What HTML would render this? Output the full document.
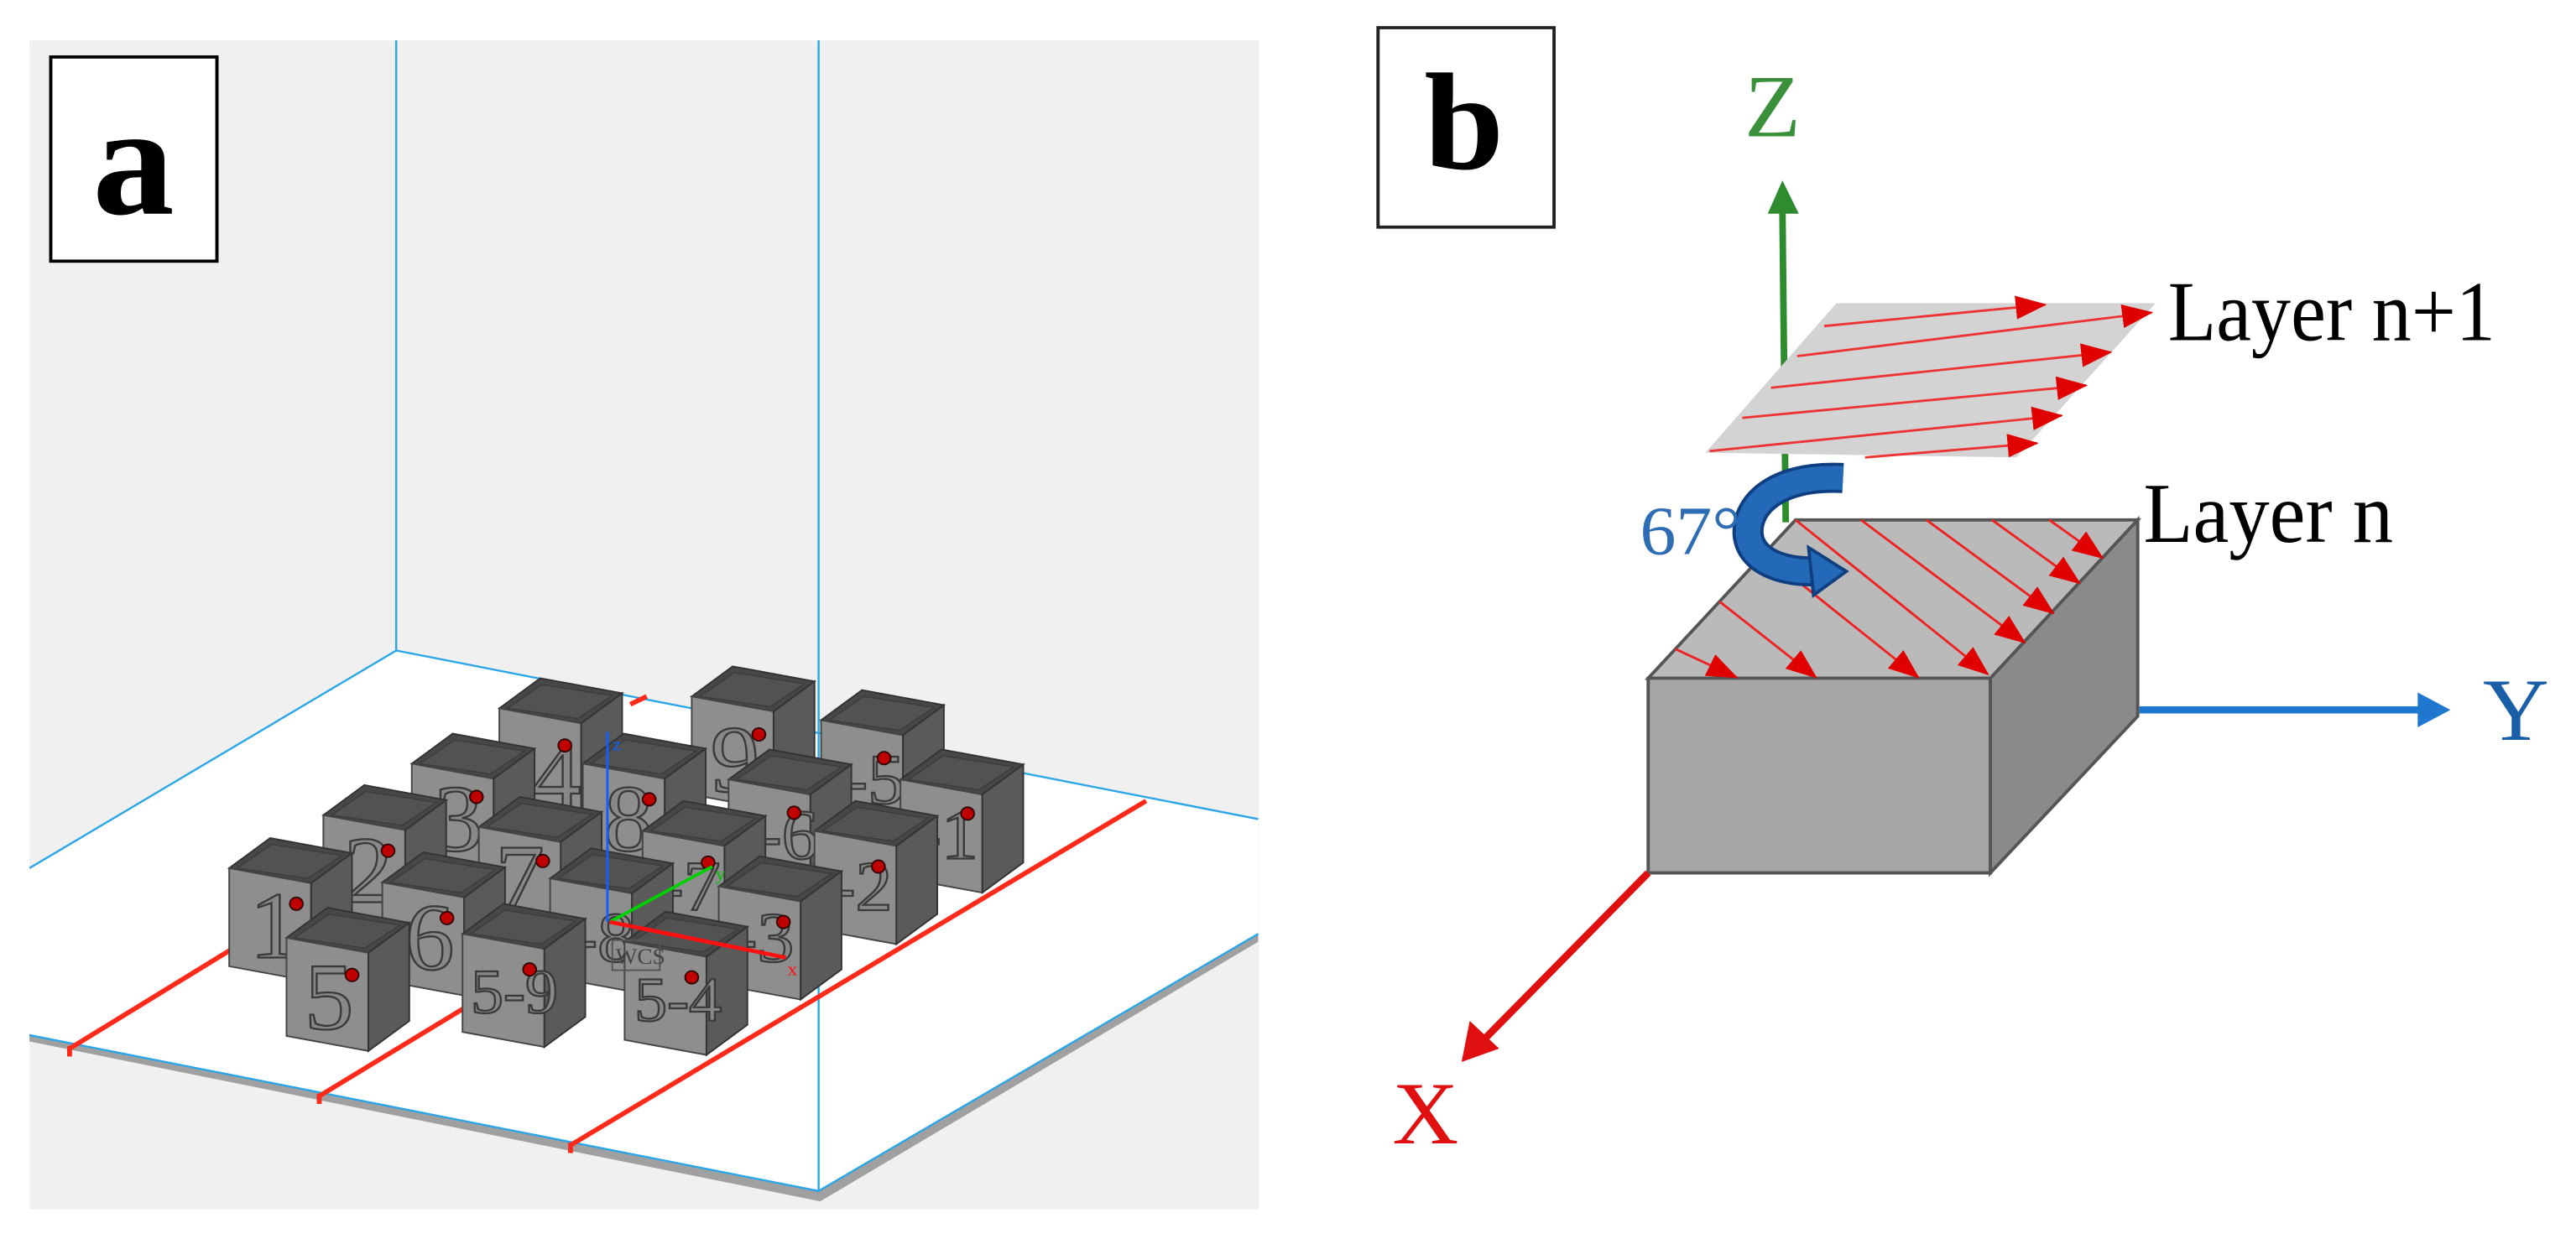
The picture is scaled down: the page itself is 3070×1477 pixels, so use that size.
<!DOCTYPE html>
<html><head><meta charset="utf-8"><style>
html,body{margin:0;padding:0;background:#fff;}
svg{display:block;}
text{font-family:"Liberation Serif",serif;}
</style></head><body>
<svg width="3070" height="1477" viewBox="0 0 3070 1477" xmlns="http://www.w3.org/2000/svg">
<defs>
<marker id="ra" markerWidth="38" markerHeight="30" refX="36" refY="15" orient="auto" markerUnits="userSpaceOnUse"><path d="M0,0 L38,15 L0,30 z" fill="#e00000"/></marker>
<g id="cube">
<polygon points="0,0 50,-38 150,-19 100,19" fill="#474747" stroke="#333" stroke-width="2"/>
<polygon points="10,0 52,-30 138,-16 96,13" fill="#525252" stroke="#3c3c3c" stroke-width="1.5"/>
<polygon points="0,0 100,19 100,143 0,124" fill="#8e8e8e" stroke="#444" stroke-width="2"/>
<polygon points="100,19 150,-19 150,105 100,143" fill="#5a5a5a" stroke="#333" stroke-width="2"/>
</g>
</defs>
<!-- Panel a -->
<g transform="scale(0.9756,0.9434)">
<rect x="36" y="51" width="1502" height="1477" fill="#f0f0f0"/>
<polygon points="36,1308 1000,1505 1537,1180 1537,1190 1002,1518 36,1316" fill="#a0a0a0"/>
<polygon points="484,822 1537,1035 1537,1180 1000,1505 36,1308 36,1097" fill="#fff"/>
<g stroke="#2aa5e8" stroke-width="2.5" fill="none">
<line x1="484" y1="51" x2="484" y2="822"/>
<line x1="1000" y1="51" x2="1000" y2="1505"/>
<polyline points="36,1097 484,822 1537,1035"/>
<polyline points="36,1308 1000,1505 1537,1180"/>
</g>
<g stroke="#ff2a1a" stroke-width="6" fill="none">
<line x1="85" y1="1325" x2="290" y2="1195"/>
<line x1="390" y1="1385" x2="570" y2="1272"/>
<line x1="697" y1="1447" x2="1400" y2="1012"/>
<line x1="770" y1="890" x2="790" y2="880"/>
<line x1="85" y1="1322" x2="85" y2="1335"/>
<line x1="390" y1="1382" x2="390" y2="1395"/>
<line x1="697" y1="1444" x2="697" y2="1457"/>
</g>
<g font-size="120" fill="#888" stroke="#3a3a3a" stroke-width="2.5">
<use href="#cube" x="610" y="895"/><text x="650" y="1020">4</text>
<use href="#cube" x="845" y="880"/><text x="868" y="1000">9</text>
<use href="#cube" x="1003" y="910"/><text x="1030" y="1015" font-size="90">-5</text>
<use href="#cube" x="503" y="965"/><text x="530" y="1075">3</text>
<use href="#cube" x="712" y="965"/><text x="738" y="1075">8</text>
<use href="#cube" x="890" y="985"/><text x="925" y="1085" font-size="90">-6</text>
<use href="#cube" x="1100" y="985"/><text x="1120" y="1085" font-size="90">-1</text>
<use href="#cube" x="395" y="1030"/><text x="420" y="1140">2</text>
<use href="#cube" x="585" y="1045"/><text x="605" y="1150">7</text>
<use href="#cube" x="785" y="1050"/><text x="805" y="1150" font-size="90">-7</text>
<use href="#cube" x="995" y="1050"/><text x="1015" y="1150" font-size="90">-2</text>
<use href="#cube" x="280" y="1097"/><text x="305" y="1210">1</text>
<use href="#cube" x="467" y="1115"/><text x="495" y="1225">6</text>
<use href="#cube" x="672" y="1110"/><text x="700" y="1215" font-size="90">-8</text>
<use href="#cube" x="878" y="1120"/><text x="895" y="1215" font-size="90">-3</text>
<use href="#cube" x="350" y="1185"/><text x="372" y="1300">5</text>
<use href="#cube" x="565" y="1180"/><text x="575" y="1280" font-size="80">5-9</text>
<use href="#cube" x="763" y="1190"/><text x="775" y="1290" font-size="80">5-4</text>
</g>
<g fill="#c00000" stroke="#300" stroke-width="2">
<circle cx="690" cy="942" r="8"/><circle cx="927" cy="928" r="8"/><circle cx="1080" cy="958" r="8"/>
<circle cx="582" cy="1007" r="8"/><circle cx="793" cy="1010" r="8"/><circle cx="970" cy="1027" r="8"/>
<circle cx="1182" cy="1028" r="8"/><circle cx="474" cy="1075" r="8"/><circle cx="663" cy="1088" r="8"/>
<circle cx="865" cy="1090" r="8"/><circle cx="1073" cy="1095" r="8"/><circle cx="362" cy="1142" r="8"/>
<circle cx="546" cy="1160" r="8"/><circle cx="957" cy="1165" r="8"/><circle cx="430" cy="1232" r="8"/>
<circle cx="647" cy="1225" r="8"/><circle cx="845" cy="1235" r="8"/>
</g>
<line x1="742" y1="925" x2="742" y2="1165" stroke="#1060ff" stroke-width="3"/>
<line x1="745" y1="1165" x2="870" y2="1095" stroke="#00d000" stroke-width="4"/>
<line x1="745" y1="1165" x2="960" y2="1210" stroke="#ff1010" stroke-width="5"/>
<text x="748" y="948" font-size="24" fill="#1060ff" font-family="Liberation Sans,sans-serif">z</text>
<text x="874" y="1112" font-size="24" fill="#00c000" font-family="Liberation Sans,sans-serif">y</text>
<text x="962" y="1232" font-size="24" fill="#ff1010" font-family="Liberation Sans,sans-serif">x</text>
<rect x="748" y="1188" width="58" height="38" fill="none" stroke="#555" stroke-width="2"/>
<text x="752" y="1218" font-size="28" fill="#444" font-family="Liberation Sans,sans-serif">WCS</text>
<rect x="62" y="72" width="203" height="258" fill="#fff" stroke="#000" stroke-width="4"/>
<text x="163" y="270" font-size="200" font-weight="bold" text-anchor="middle" fill="#000">a</text>
</g>
<!-- Panel b -->
<g transform="translate(1535,0) scale(0.9756,0.9434)">
<rect x="110" y="35" width="215" height="252" fill="#fff" stroke="#222" stroke-width="4"/>
<text x="215" y="213" font-size="175" font-weight="bold" text-anchor="middle" fill="#000">b</text>
<line x1="608" y1="660" x2="604" y2="265" stroke="#2e8b2e" stroke-width="8"/>
<polygon points="586,270 604,228 624,270" fill="#2e8b2e"/>
<text x="592" y="172" font-size="112" text-anchor="middle" fill="#3a8f3a">Z</text>
<polygon points="510,572 670,383 1060,383 890,578" fill="#d3d3d3"/>
<g stroke="#ee3333" stroke-width="3" marker-end="url(#ra)">
<line x1="655" y1="412" x2="925" y2="385"/>
<line x1="622" y1="450" x2="1055" y2="395"/>
<line x1="590" y1="490" x2="1005" y2="445"/>
<line x1="555" y1="528" x2="975" y2="487"/>
<line x1="515" y1="570" x2="945" y2="525"/>
<line x1="705" y1="578" x2="915" y2="560"/>
</g>
<polygon points="440,857 620,657 1038,657 858,857" fill="#bababa" stroke="#555" stroke-width="4"/>
<polygon points="440,857 858,857 858,1103 440,1103" fill="#a6a6a6" stroke="#555" stroke-width="4"/>
<polygon points="858,857 1038,657 1038,905 858,1103" fill="#8a8a8a" stroke="#555" stroke-width="4"/>
<g stroke="#ee2222" stroke-width="3" marker-end="url(#ra)">
<line x1="620" y1="657" x2="855" y2="852"/>
<line x1="700" y1="657" x2="900" y2="812"/>
<line x1="780" y1="657" x2="935" y2="775"/>
<line x1="860" y1="657" x2="967" y2="737"/>
<line x1="930" y1="657" x2="995" y2="705"/>
<line x1="581" y1="700" x2="770" y2="856"/>
<line x1="527" y1="760" x2="645" y2="856"/>
<line x1="473" y1="820" x2="548" y2="856"/>
</g>
<path d="M678,604 C600,600 560,635 562,675 C565,710 605,722 640,722" fill="none" stroke="#0f3f80" stroke-width="38"/>
<path d="M678,604 C600,600 560,635 562,675 C565,710 605,722 640,722" fill="none" stroke="#2468b8" stroke-width="30"/>
<polygon points="636,692 682,722 642,752" fill="#2468b8" stroke="#0f3f80" stroke-width="4"/>
<text x="430" y="700" font-size="88" fill="#2e6db4">67°</text>
<line x1="1040" y1="897" x2="1385" y2="897" stroke="#1f77d0" stroke-width="9"/>
<polygon points="1380,875 1420,897 1380,919" fill="#1f77d0"/>
<text x="1500" y="935" font-size="112" text-anchor="middle" fill="#1a5ea8">Y</text>
<line x1="440" y1="1103" x2="240" y2="1313" stroke="#e01010" stroke-width="9"/>
<polygon points="222,1290 212,1342 258,1325" fill="#e01010"/>
<text x="168" y="1445" font-size="112" text-anchor="middle" fill="#e01010">X</text>
<text x="1075" y="430" font-size="108" fill="#000" textLength="400" lengthAdjust="spacingAndGlyphs">Layer n+1</text>
<text x="1045" y="685" font-size="108" fill="#000" textLength="305" lengthAdjust="spacingAndGlyphs">Layer n</text>
</g>
</svg>
</body></html>
